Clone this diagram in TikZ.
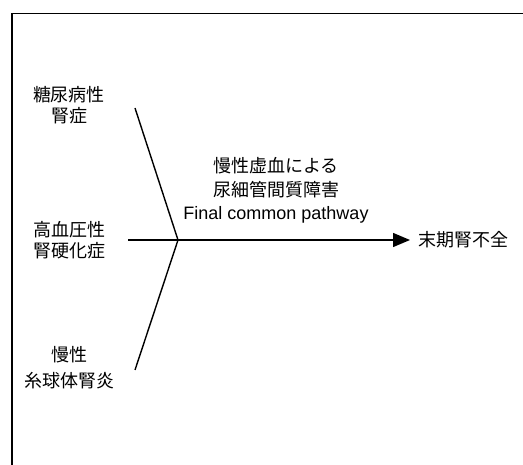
\documentclass[tikz,border=0pt]{standalone}
\usepackage{fontspec}
\setmainfont{Liberation Sans}
\newfontfamily\jp{Noto Sans CJK JP}
\usetikzlibrary{arrows.meta}
\begin{document}
\begin{tikzpicture}[x=1pt,y=-1pt,line width=1.4pt,
  lbl/.style={align=center,inner sep=0pt,font=\jp\fontsize{18}{21}\selectfont},
  midlbl/.style={align=center,inner sep=0pt,font=\fontsize{18}{23.5}\selectfont}]
\useasboundingbox (0,0) rectangle (523,465);
\coordinate (fb) at (12,465);
\coordinate (fc) at (12,13.5);
\coordinate (fr) at (523,13.5);
\draw[line width=1.6pt] (fb) -- (fc) -- (fr);
\node[lbl] (dm) at (69,105.5) {糖尿病性\\腎症};
\node[lbl] (ht) at (70,240.5) {高血圧性\\腎硬化症};
\node[lbl,font=\jp\fontsize{18}{26}\selectfont] (gn) at (69,368) {慢性\\糸球体腎炎};
\node[midlbl] (mid) at (276,190.5) {{\jp 慢性虚血による}\\{\jp 尿細管間質障害}\\Final common pathway};
\node[lbl,anchor=west] (esrd) at (418,240) {末期腎不全};
\coordinate (j) at (178,240);
\coordinate (a1) at (135,108);
\coordinate (a3) at (135,370);
\coordinate (h0) at (128,240);
\draw (a1) -- (j) -- (a3);
\draw[-{Triangle[length=17pt,width=14pt]},shorten >=8pt] (h0) -- (esrd.west);
\end{tikzpicture}
\end{document}
